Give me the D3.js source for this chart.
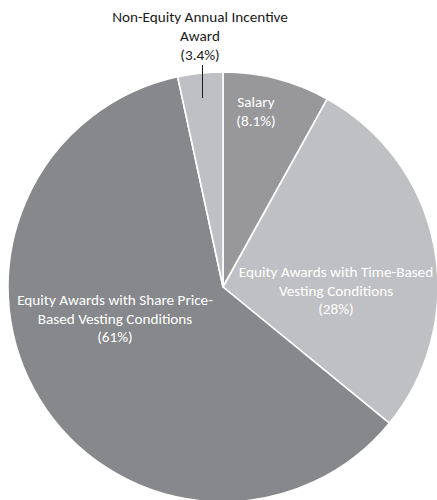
<!DOCTYPE html>
<html>
<head>
<meta charset="utf-8">
<script src="https://cdn.jsdelivr.net/npm/d3@7"></script>
<style>
  html, body { margin: 0; padding: 0; background: #fff; }
  svg { display: block; }
  text { font-family: Carlito, Lato, "Open Sans", sans-serif; }
</style>
</head>
<body>
<svg id="chart" width="437" height="500"></svg>
<script>
// ---- data ----
const categories = [
  "Salary",
  "Equity Awards with Time-Based Vesting Conditions",
  "Equity Awards with Share Price-Based Vesting Conditions",
  "Non-Equity Annual Incentive Award"
];
const values = [8.1, 28, 61, 3.4];
const valueLabels = ["(8.1%)", "(28%)", "(61%)", "(3.4%)"];
const labelLines = [
  ["Salary", "(8.1%)"],
  ["Equity Awards with Time-Based", "Vesting Conditions", "(28%)"],
  ["Equity Awards with Share Price-", "Based Vesting Conditions", "(61%)"],
  ["Non-Equity Annual Incentive", "Award", "(3.4%)"]
];
const colors = ["#98989b", "#bfc0c3", "#87888c", "#bfc0c3"];

// ---- layout ----
const cx = 223, cy = 287, R = 215;
const fontSize = 15.2;
const lineGap = 18.7;
const labelPos = [
  { x: 256, y: 107, fill: "#ffffff" },
  { x: 336, y: 277, fill: "#ffffff" },
  { x: 115, y: 305, fill: "#ffffff" },
  { x: 200, y: 22, fill: "#1a1a1a", gap: 19.2 }
];

const svg = d3.select("#chart");
const g = svg.append("g").attr("transform", `translate(${cx},${cy})`);

const data = categories.map((c, i) => ({ name: c, value: values[i], i }));
const pie = d3.pie().sort(null).value(d => d.value);
const arcs = pie(data);
const arc = d3.arc().innerRadius(0).outerRadius(R);

g.selectAll("path.slice")
  .data(arcs)
  .join("path")
  .attr("class", "slice")
  .attr("d", arc)
  .attr("fill", d => colors[d.data.i])
  .attr("stroke", "#ffffff")
  .attr("stroke-width", 1.6)
  .attr("stroke-linejoin", "round");

// leader line for the small slice
svg.append("line")
  .attr("x1", 202.5).attr("x2", 202.5)
  .attr("y1", 65).attr("y2", 98)
  .attr("stroke", "#1a1a1a")
  .attr("stroke-width", 1);

// labels
labelLines.forEach((lines, i) => {
  const p = labelPos[i];
  const t = svg.append("text")
    .attr("text-anchor", "middle")
    .attr("font-size", fontSize)
    .attr("fill", p.fill);
  lines.forEach((ln, j) => {
    t.append("tspan")
      .attr("x", p.x)
      .attr("y", p.y + j * (p.gap || lineGap))
      .text(ln);
  });
});
</script>
</body>
</html>
